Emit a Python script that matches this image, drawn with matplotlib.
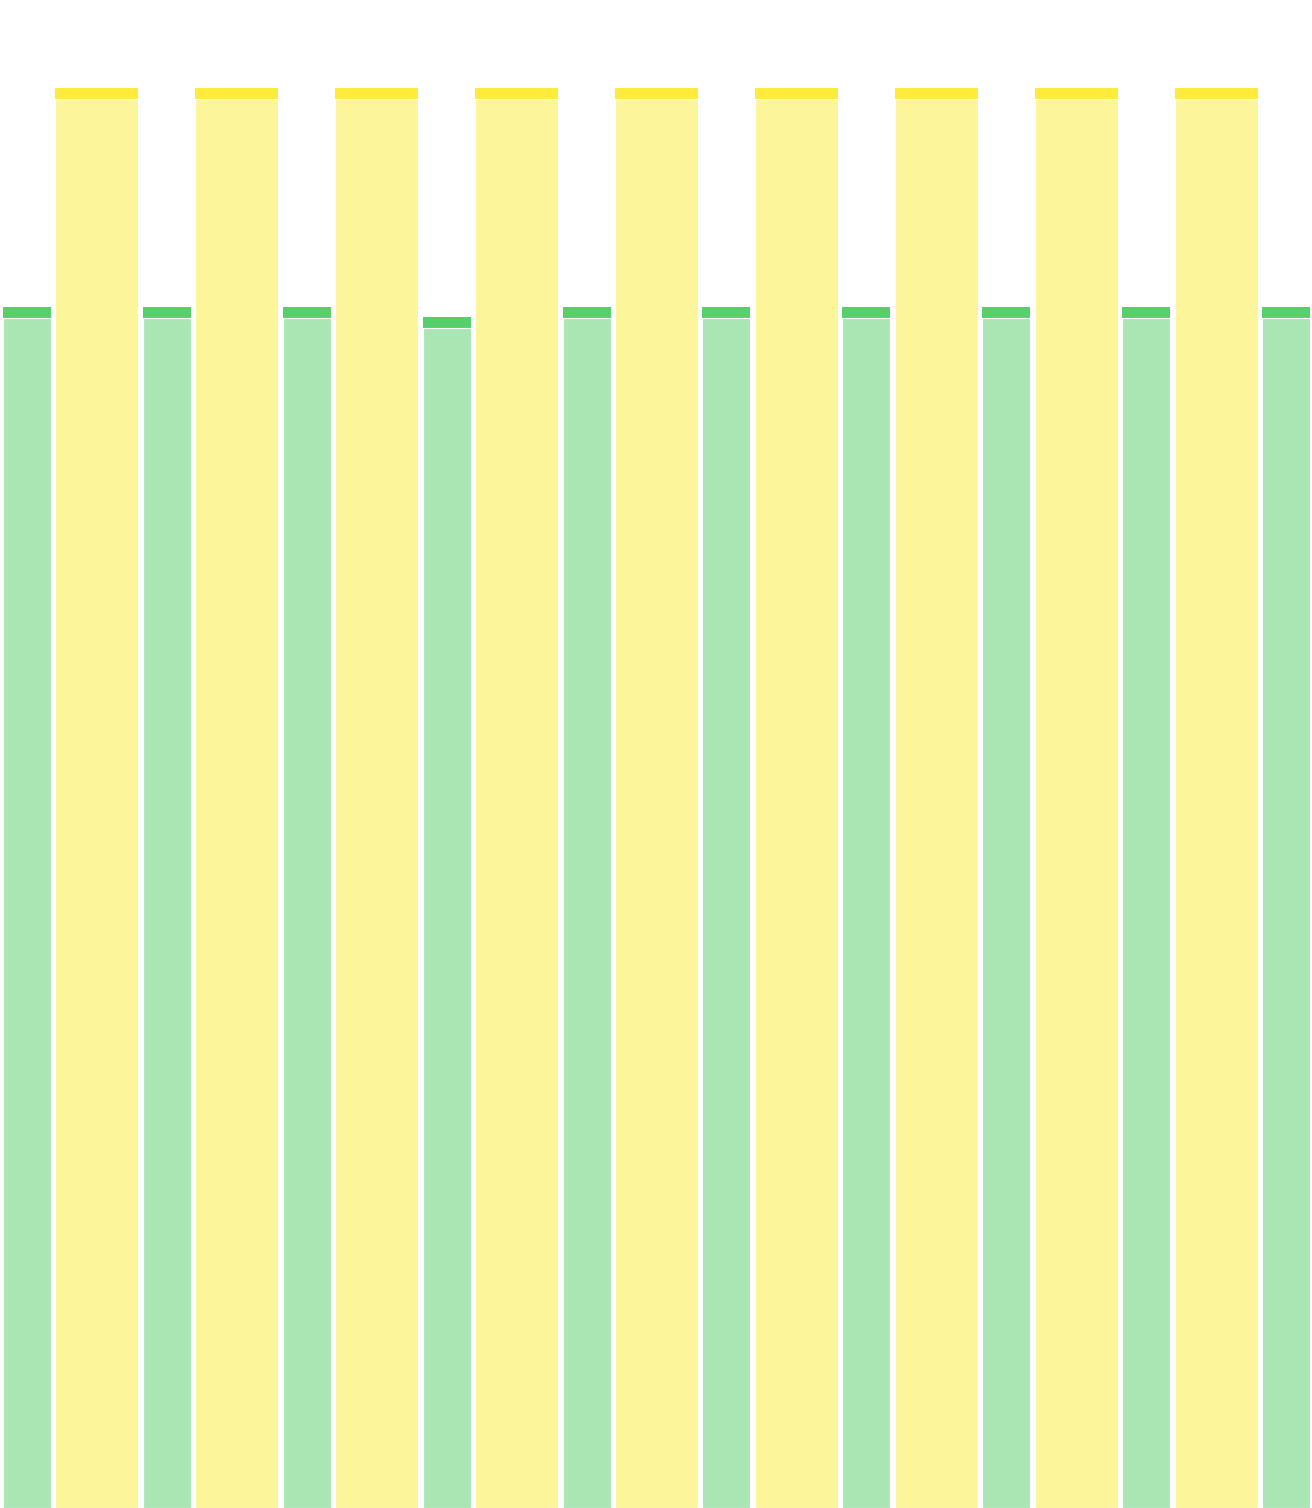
import matplotlib
matplotlib.use("Agg")
import matplotlib.pyplot as plt
import numpy as np

# bar heights (yellow = 100)
green_values = [84.6, 84.6, 84.6, 83.9, 84.6, 84.6, 84.6, 84.6, 84.6, 84.6]
yellow_values = [100, 100, 100, 100, 100, 100, 100, 100, 100]

green_cap, green_body = "#55d06b", "#aae6b4"
yellow_cap, yellow_body = "#ffeb3b", "#fdf59a"
cap = 0.78  # thickness of the darker top band, in data units

fig = plt.figure(figsize=(13.12, 15.08), dpi=100)
ax = fig.add_axes([0, 0, 1, 1])

xg = np.arange(len(green_values))
xy = np.arange(len(yellow_values)) + 0.5
gv = np.array(green_values)
yv = np.array(yellow_values)

# dark caps (full height), then lighter body over them
ax.bar(xg, gv, width=0.343, color=green_cap, linewidth=0)
ax.bar(xg, gv - cap, width=0.343, color=green_body, edgecolor="white", linewidth=0.8)
ax.bar(xy, yv, width=0.593, color=yellow_cap, linewidth=0)
ax.bar(xy, yv - cap, width=0.593, color=yellow_body, edgecolor="white", linewidth=0.8)

ax.set_xlim(-27 / 140, 9 + 26 / 140)
ax.set_ylim(0, 106.2)
ax.axis("off")

fig.savefig("out.png", dpi=100)
